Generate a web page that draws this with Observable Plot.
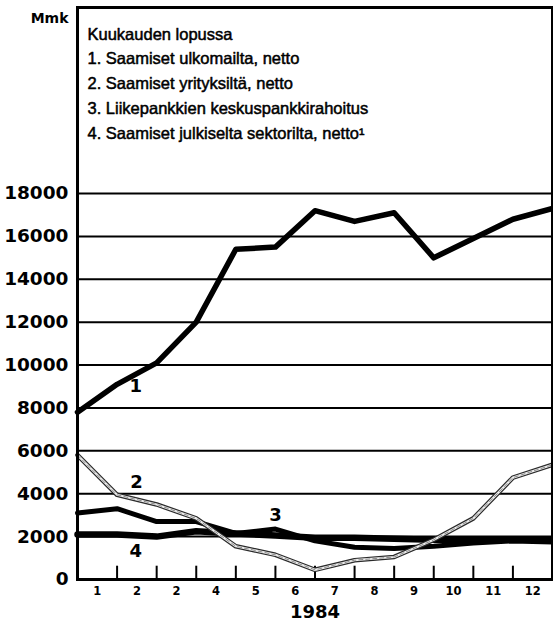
<!DOCTYPE html>
<html>
<head>
<meta charset="utf-8">
<script src="https://cdn.jsdelivr.net/npm/d3@7"></script>
<script src="https://cdn.jsdelivr.net/npm/@observablehq/plot@0.6"></script>
<style>
  html, body { margin: 0; padding: 0; background: #fff; }
  #chart { width: 553px; height: 621px; }
</style>
</head>
<body>
<div id="chart"></div>
<script>
// ---- data ----
const monthLabels = ["1", "2", "2", "4", "5", "6", "7", "8", "9", "10", "11", "12"];
const monthEnds = [0, 1, 2, 3, 4, 5, 6, 7, 8, 9, 10, 11, 12];
const series1 = [7800, 9100, 10100, 12000, 15400, 15500, 17200, 16700, 17100, 15000, 15900, 16800, 17300];
const series2 = [5800, 3950, 3500, 2850, 1550, 1150, 450, 900, 1050, 1850, 2850, 4750, 5350];
const series3 = [3100, 3300, 2700, 2700, 2150, 2350, 1800, 1500, 1450, 1550, 1700, 1800, 1750];
const series4 = [2100, 2100, 2000, 2250, 2150, 2050, 1950, 1950, 1900, 1850, 1850, 1850, 1850];
const yTicks = [0, 2000, 4000, 6000, 8000, 10000, 12000, 14000, 16000, 18000];
const legendLines = [
  "Kuukauden lopussa",
  "1. Saamiset ulkomailta, netto",
  "2. Saamiset yrityksiltä, netto",
  "3. Liikepankkien keskuspankkirahoitus",
  "4. Saamiset julkiselta sektorilta, netto\u00B9"
];
const unitLabel = "Mmk";
const yearLabel = "1984";
const lineLabels = [
  {text: "1", month: 1.47, value: 9000},
  {text: "2", month: 1.49, value: 4520},
  {text: "3", month: 5.0, value: 2985},
  {text: "4", month: 1.47, value: 1305}
];

// ---- build ----
const toRows = (vals) => vals.map((v, i) => ({x: monthEnds[i], y: v}));
const s1 = toRows(series1), s2 = toRows(series2), s3 = toRows(series3), s4 = toRows(series4);
const monthMid = monthLabels.map((_, i) => i + 0.5);
const innerTicks = monthEnds.slice(1, -1);
const yTop = 26674; // frame top extends above 18000 to hold the legend
const numFont = "DejaVu Sans";

const chart = Plot.plot({
  width: 553,
  height: 621,
  marginLeft: 77,
  marginRight: 1,
  marginTop: 7,
  marginBottom: 42,
  style: {background: "white", color: "black"},
  x: {domain: [0, 12]},
  y: {domain: [0, yTop]},
  marks: [
    Plot.ruleY(yTicks.filter(d => d > 0), {stroke: "black", strokeWidth: 2}),
    Plot.ruleX(innerTicks, {y1: 0, y2: 620, stroke: "black", strokeWidth: 2}),
    Plot.line(s4, {x: "x", y: "y", stroke: "black", strokeWidth: 6.5, strokeLinejoin: "round"}),
    Plot.line(s3, {x: "x", y: "y", stroke: "black", strokeWidth: 5, strokeLinejoin: "round"}),
    Plot.line(s2, {x: "x", y: "y", stroke: "#2a2a2a", strokeWidth: 4.6, strokeLinejoin: "round"}),
    Plot.line(s2, {x: "x", y: "y", stroke: "#eeeeee", strokeWidth: 2.2, strokeLinejoin: "round"}),
    Plot.line(s2, {x: "x", y: "y", stroke: "#8a8a8a", strokeWidth: 1, strokeDasharray: "4,3", strokeLinejoin: "round"}),
    Plot.line(s1, {x: "x", y: "y", stroke: "black", strokeWidth: 5.5, strokeLinejoin: "round"}),
    Plot.ruleY([0], {stroke: "black", strokeWidth: 3}),
    Plot.frame({stroke: "black", strokeWidth: 3}),
    Plot.axisY(yTicks, {
      tickSize: 0, tickPadding: 9, label: null,
      tickFormat: d => String(d),
      fontSize: 18.5, fontWeight: "bold", fontFamily: numFont
    }),
    Plot.axisX(monthMid, {
      tickSize: 0, tickPadding: 7, label: null,
      tickFormat: d => monthLabels[Math.floor(d)],
      fontSize: 11.5, fontWeight: "bold", fontFamily: numFont
    }),
    Plot.text(lineLabels, {
      x: "month", y: "value", text: "text",
      fontSize: 18, fontWeight: "bold", fontFamily: numFont, fill: "black"
    }),
    Plot.text([unitLabel], {
      frameAnchor: "top-left", dx: -9, dy: 6, textAnchor: "end", lineAnchor: "top",
      fontSize: 14, fontWeight: "bold", fontFamily: numFont, fill: "black"
    }),
    Plot.text([legendLines.join("\n")], {
      frameAnchor: "top-left", dx: 10, dy: 14.5, textAnchor: "start", lineAnchor: "top",
      lineHeight: 1.5, fontSize: 16.5, fontFamily: "Liberation Sans",
      fill: "black", stroke: "black", strokeWidth: 0.5
    }),
    Plot.text([yearLabel], {
      frameAnchor: "bottom", dy: 26, lineAnchor: "top",
      fontSize: 18, fontWeight: "bold", fontFamily: numFont, fill: "black"
    })
  ]
});
document.getElementById("chart").appendChild(chart);
</script>
</body>
</html>
